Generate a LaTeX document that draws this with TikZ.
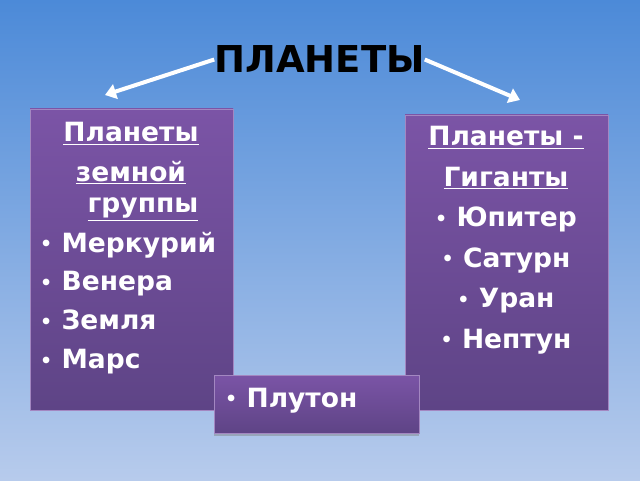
\documentclass[tikz,border=0pt]{standalone}
\usepackage{fontspec}
\setmainfont{DejaVu Sans}
\usepackage{tikz}
\usetikzlibrary{arrows.meta,positioning,shadows}

\definecolor{bgtop}{RGB}{76,138,216}
\definecolor{bgbot}{RGB}{183,203,236}
\definecolor{boxtop}{RGB}{123,84,166}
\definecolor{boxbot}{RGB}{94,68,134}

\newcommand{\bul}{{\fontsize{19}{20}\selectfont\raisebox{1.5pt}{•}}\hspace{0.35em}}

\begin{document}
\begin{tikzpicture}[x=1pt, y=1pt, >=latex, node distance=13.5pt]
	    \tikzstyle{panel}=[inner sep=0pt, top color=boxtop, bottom color=boxbot, draw=boxtop!70!white, line width=0.4pt]
	    \tikzstyle{line}=[text=white, font=\bfseries\fontsize{26.5}{30}\selectfont, inner sep=0pt, text height=19pt, text depth=6pt]
	    \tikzstyle{item}=[line, text width=182pt, align=left]
	    \tikzstyle{pointer}=[->, white, line width=4pt, -{Triangle[length=11pt, width=15pt]}]
	    
	    % background
	    \useasboundingbox (0,0) rectangle (640,480);
	    \fill[top color=bgtop, bottom color=bgbot] (0,0) rectangle (640,480);
	    
	    % title and boxes
	    \node[font=\bfseries\fontsize{37}{40}\selectfont, inner sep=0pt, anchor=base] (title) at (319.5,407) {ПЛАНЕТЫ};
	    \node[panel, minimum width=203pt, minimum height=301pt] (inner box) at (131.5,220.5) {};
	    \node[panel, minimum width=203pt, minimum height=295pt] (giant box) at (506.5,217.5) {};
	    \node[panel, minimum width=205pt, minimum height=58pt, drop shadow={shadow xshift=0pt, shadow yshift=-2.5pt, opacity=0.45}] (pluto box) at (316.5,76) {};
	    
	    % left box
	    \node[line, anchor=base] (inner head) at (131,338) {\underline{Планеты}};
	    \node[line] (inner zem) [below=14pt of inner head] {\underline{земной}};
	    \node[line] (inner grp) [below=6pt of inner zem, xshift=12pt] {\underline{группы}};
	    \node[item, anchor=base west] (mercury) at (40,228) {\bul Меркурий};
	    \node[item] (venus) [below=of mercury] {\bul Венера};
	    \node[item] (earth) [below=of venus] {\bul Земля};
	    \node[item] (mars) [below=of earth] {\bul Марс};
	    
	    % right box
	    \node[line, anchor=base] (giant head) at (506,334) {\underline{Планеты -}};
	    \node[line] (giant sub) [below=15pt of giant head] {\underline{Гиганты}};
	    \node[line] (jupiter) [below=15pt of giant sub] {\bul Юпитер};
	    \node[line] (saturn) [below=15pt of jupiter] {\bul Сатурн};
	    \node[line] (uranus) [below=15pt of saturn] {\bul Уран};
	    \node[line] (neptune) [below=15pt of uranus] {\bul Нептун};
	    
	    \node[line, anchor=base west] (pluto) at (225,73) {\bul Плутон};
	    
	    % arrows from the title
	    \coordinate (inner tip) at (105,385);
	    \coordinate (giant tip) at (520,380);
	    \draw[pointer] (title.west) -- (inner tip);
	    \draw[pointer] (title.east) -- (giant tip);
    
\end{tikzpicture}
\end{document}
